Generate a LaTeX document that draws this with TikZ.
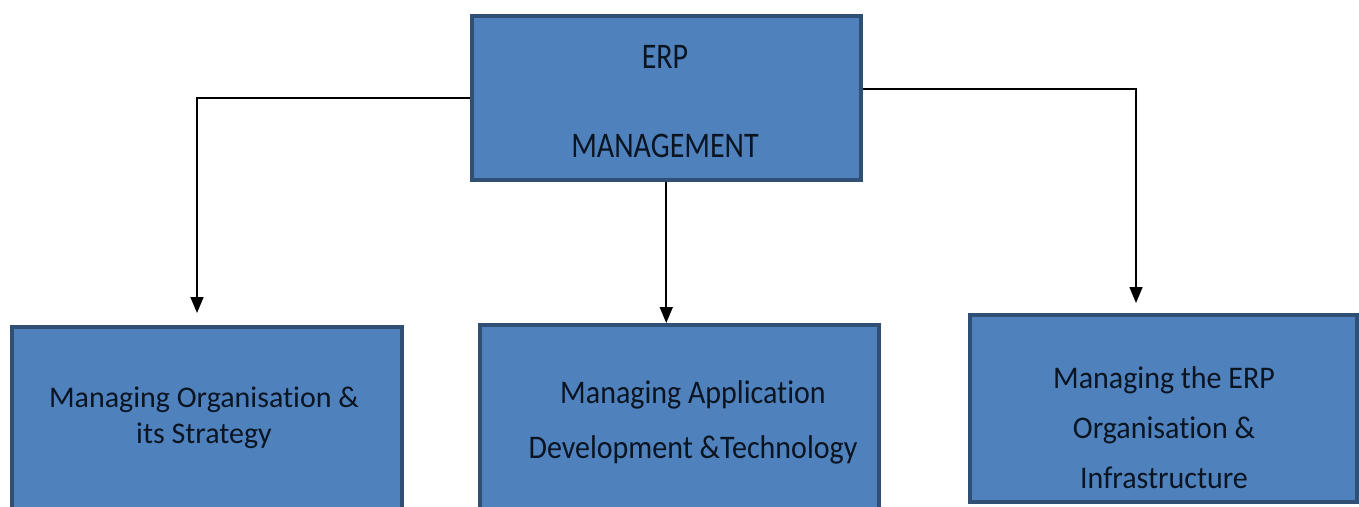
\documentclass[tikz,border=0pt]{standalone}
\usepackage{fontspec}
\setmainfont{Carlito}[Ligatures=NoCommon]
\usetikzlibrary{arrows.meta}
\definecolor{boxfill}{HTML}{4F81BD}
\definecolor{boxline}{HTML}{2F4F74}
\definecolor{txtcol}{HTML}{0B1522}
\tikzset{
  box/.style={draw=boxline, line width=3.5pt, fill=boxfill, rectangle, inner sep=0pt, anchor=north west},
  txt/.style={text=txtcol, font=\fontsize{30}{36}\selectfont, align=center, anchor=base, inner sep=0pt},
  arr/.style={draw=black, line width=1.6pt, -{Triangle[width=13pt,length=16pt]}}
}
\begin{document}
\begin{tikzpicture}[x=1pt,y=-1pt]
\fill[white] (0,0) rectangle (1359,506);
\useasboundingbox (0,0) rectangle (1359,506);
\clip (0,0) rectangle (1359,506);
% boxes
\node[box, minimum width=389pt, minimum height=164pt] (top) at (470,14) {};
\node[box, minimum width=390pt, minimum height=200pt] (L) at (10,325) {};
\node[box, minimum width=399pt, minimum height=200pt] (M) at (478,323) {};
\node[box, minimum width=387pt, minimum height=187pt] (R) at (968,313) {};
% texts (anchored at the baseline of the last line)
\node[txt, yscale=1.2, transform shape] (ttop) at (665,157) {ERP\\[38pt]MANAGEMENT};
\node[txt] (tL) at (204,443) {Managing Organisation \&\\its Strategy};
\node[txt, yscale=1.1, transform shape] (tM) at (693,458) {Managing Application\\[14pt]Development \&Technology};
\node[txt, yscale=1.05, transform shape] (tR) at (1164,488) {Managing the ERP\\[11.6pt]Organisation \&\\[11.6pt]Infrastructure};
% connector ends
\coordinate (lend) at (197,313);
\coordinate (rend) at (1136,303);
% connectors
\draw[arr] (top.west) -| (lend);
\draw[arr] ([yshift=9pt]top.east) -| (rend);
\draw[arr] (top.south) -- (top.south |- M.north);
\end{tikzpicture}
\end{document}
